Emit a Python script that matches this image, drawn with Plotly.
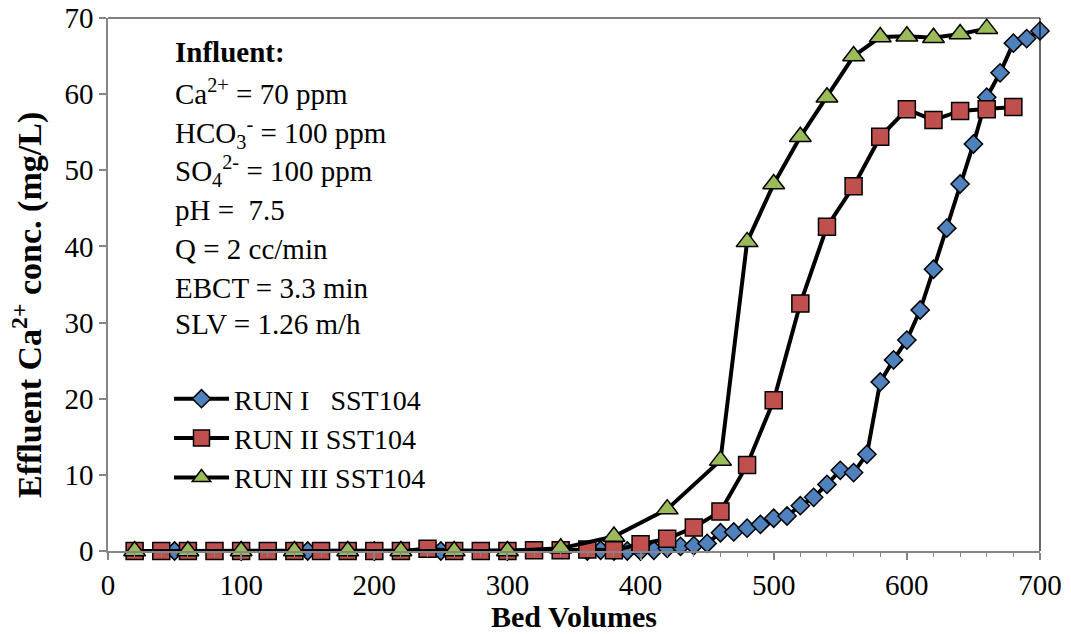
import plotly.graph_objects as go

# Breakthrough data: effluent Ca2+ (mg/L) versus bed volumes
run1_bv = [50, 100, 150, 200, 250, 300, 360, 370, 380, 390, 400, 410, 420, 430, 440,
           450, 460, 470, 480, 490, 500, 510, 520, 530, 540, 550, 560, 570, 580, 590,
           600, 610, 620, 630, 640, 650, 660, 670, 680, 690, 700]
run1_ca = [0, 0, 0, 0, 0, 0, 0, 0.1, 0, 0, 0, 0.1, 0.35, 0.6, 0.7,
           1.0, 2.4, 2.5, 3.0, 3.5, 4.3, 4.6, 5.95, 7.05, 8.75, 10.6, 10.3, 12.7, 22.2, 25.1,
           27.7, 31.65, 37.0, 42.4, 48.2, 53.45, 59.6, 62.8, 66.7, 67.3, 68.3]

run2_bv = [20, 40, 60, 80, 100, 120, 140, 160, 180, 200, 220, 240, 260, 280, 300,
           320, 340, 360, 380, 400, 420, 440, 460, 480, 500, 520, 540, 560, 580, 600,
           620, 640, 660, 680]
run2_ca = [0, 0, 0, 0, 0, 0, 0, 0, 0, 0, 0, 0.3, 0, 0, 0,
           0.1, 0.1, 0.2, 0.1, 0.9, 1.6, 3.1, 5.2, 11.3, 19.8, 32.5, 42.6, 47.9, 54.4, 58.0,
           56.6, 57.8, 58.0, 58.3]

run3_bv = [20, 60, 100, 140, 180, 220, 260, 300, 340, 380, 420, 460, 480, 500, 520,
           540, 560, 580, 600, 620, 640, 660]
run3_ca = [0, 0, 0, 0, 0, 0, 0, 0, 0.35, 1.9, 5.5, 11.9, 40.6, 48.2, 54.4,
           59.6, 65.0, 67.5, 67.6, 67.4, 67.9, 68.6]

series_names = ["RUN I   SST104", "RUN II SST104", "RUN III SST104"]

influent_lines = [
    "<b>Influent:</b>",
    "Ca<sup>2+</sup> = 70 ppm",
    "HCO<sub>3</sub><sup>-</sup> = 100 ppm",
    "SO<sub>4</sub><sup>2-</sup> = 100 ppm",
    "pH =  7.5",
    "Q = 2 cc/min",
    "EBCT = 3.3 min",
    "SLV = 1.26 m/h",
]

FONT = "Liberation Serif, Times New Roman, serif"
W, H = 1071, 634
ML, MR, MT, MB = 108, 31, 18, 83
PW, PH = W - ML - MR, H - MT - MB


def px_to_paper(px, py):
    return (px - ML) / PW, (H - MB - py) / PH


fig = go.Figure()

styles = [
    dict(symbol="diamond", size=14, color="#4F81BD"),
    dict(symbol="square", size=17, color="#C0504D"),
    dict(symbol="triangle-up", size=19, color="#9BBB59"),
]

for xs, ys, name, st in zip([run1_bv, run2_bv, run3_bv],
                            [run1_ca, run2_ca, run3_ca],
                            series_names, styles):
    fig.add_trace(go.Scatter(
        x=xs, y=ys, name=name, mode="lines+markers",
        line=dict(color="black", width=4),
        marker=dict(symbol=st["symbol"], size=st["size"], color=st["color"],
                    line=dict(color="black", width=1.5)),
        cliponaxis=False,
    ))

# Influent conditions text block
line_centers = [52, 92, 133, 171, 210, 249, 288, 324]
for txt, yc in zip(influent_lines, line_centers):
    ax, ay = px_to_paper(173, yc)
    fig.add_annotation(text=txt, xref="paper", yref="paper", x=ax, y=ay,
                       xanchor="left", yanchor="middle", showarrow=False,
                       font=dict(family=FONT, size=29, color="black"))

# Axis titles
tx, ty = px_to_paper(574, 616)
fig.add_annotation(text="<b>Bed Volumes</b>", xref="paper", yref="paper", x=tx, y=ty,
                   xanchor="center", yanchor="middle", showarrow=False,
                   font=dict(family=FONT, size=30, color="black"))
tx, ty = px_to_paper(27, 305)
fig.add_annotation(text="<b>Effluent Ca<sup>2+</sup> conc. (mg/L)</b>", xref="paper", yref="paper",
                   x=tx, y=ty, xanchor="center", yanchor="middle", textangle=-90,
                   showarrow=False, font=dict(family=FONT, size=34, color="black"))

# Top and right frame lines
fig.add_shape(type="line", xref="paper", yref="paper", x0=0, x1=1, y0=1, y1=1,
              line=dict(color="black", width=1.2))
fig.add_shape(type="line", xref="paper", yref="paper", x0=1, x1=1, y0=0, y1=1,
              line=dict(color="black", width=1.2))

lx, ly = px_to_paper(169, 374)
fig.update_layout(
    width=W, height=H,
    margin=dict(l=ML, r=MR, t=MT, b=MB, autoexpand=False),
    paper_bgcolor="white", plot_bgcolor="white",
    font=dict(family=FONT, color="black"),
    showlegend=True,
    legend=dict(x=lx, y=ly, xanchor="left", yanchor="top",
                bgcolor="rgba(0,0,0,0)", font=dict(family=FONT, size=28, color="black"),
                itemwidth=55, tracegroupgap=0),
    xaxis=dict(range=[0, 700], dtick=100, tick0=0, showgrid=False, zeroline=False,
               showline=True, linecolor="#868686", linewidth=1.5,
               ticks="outside", ticklen=7, tickcolor="#868686", tickwidth=1.5,
               minor=dict(dtick=20, ticks="outside", ticklen=4, tickcolor="#868686", tickwidth=1),
               tickfont=dict(family=FONT, size=29, color="black")),
    yaxis=dict(range=[0, 70], dtick=10, tick0=0, showgrid=False, zeroline=False,
               showline=True, linecolor="#868686", linewidth=1.5,
               ticks="outside", ticklen=7, tickcolor="#868686", tickwidth=1.5,
               tickfont=dict(family=FONT, size=29, color="black")),
)

fig.write_html("out.html")
